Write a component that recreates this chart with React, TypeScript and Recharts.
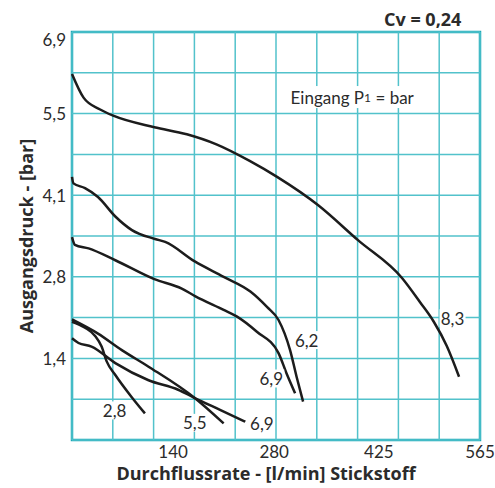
import {
  LineChart,
  Line,
  XAxis,
  YAxis,
  ReferenceArea,
  ReferenceDot,
  ReferenceLine,
} from "recharts";

// flow [l/min] vs outlet pressure [bar]
const flowTicks = [140, 280, 425, 565];
const flowGrid = [0, 56.5, 113, 169.5, 226, 282.5, 339, 395.5, 452, 508.5, 565];
const pressureTicks = [1.38, 2.76, 4.14, 5.52, 6.9];
const pressureLabels = ["1,4", "2,8", "4,1", "5,5", "6,9"];
const pressureGrid = [0, 0.69, 1.38, 2.07, 2.76, 3.45, 4.14, 4.83, 5.52, 6.21, 6.9];

const curve83 = [
  { flow: 0, pressure: 6.19 },
  { flow: 16, pressure: 5.79 },
  { flow: 39, pressure: 5.59 },
  { flow: 58, pressure: 5.48 },
  { flow: 114, pressure: 5.29 },
  { flow: 159, pressure: 5.17 },
  { flow: 200, pressure: 5.0 },
  { flow: 246, pressure: 4.72 },
  { flow: 284, pressure: 4.45 },
  { flow: 341, pressure: 3.97 },
  { flow: 396, pressure: 3.38 },
  { flow: 457, pressure: 2.74 },
  { flow: 482, pressure: 2.33 },
  { flow: 501, pressure: 2.0 },
  { flow: 519, pressure: 1.59 },
  { flow: 536, pressure: 1.07 },
];

const curve62 = [
  { flow: 0, pressure: 4.45 },
  { flow: 2, pressure: 4.34 },
  { flow: 18, pressure: 4.26 },
  { flow: 36, pressure: 4.11 },
  { flow: 60, pressure: 3.78 },
  { flow: 83, pressure: 3.55 },
  { flow: 115, pressure: 3.4 },
  { flow: 129, pressure: 3.35 },
  { flow: 170, pressure: 3.02 },
  { flow: 210, pressure: 2.76 },
  { flow: 247, pressure: 2.51 },
  { flow: 270, pressure: 2.25 },
  { flow: 286, pressure: 2.03 },
  { flow: 302, pressure: 1.52 },
  { flow: 311, pressure: 1.07 },
  { flow: 320, pressure: 0.65 },
];

const curve69a = [
  { flow: 0, pressure: 3.43 },
  { flow: 4, pressure: 3.3 },
  { flow: 23, pressure: 3.24 },
  { flow: 60, pressure: 3.04 },
  { flow: 114, pressure: 2.72 },
  { flow: 152, pressure: 2.56 },
  { flow: 171, pressure: 2.43 },
  { flow: 210, pressure: 2.2 },
  { flow: 228, pressure: 2.09 },
  { flow: 256, pressure: 1.83 },
  { flow: 286, pressure: 1.47 },
  { flow: 297, pressure: 1.13 },
  { flow: 309, pressure: 0.79 },
];

const curve55 = [
  { flow: 0, pressure: 2.04 },
  { flow: 36, pressure: 1.8 },
  { flow: 69, pressure: 1.52 },
  { flow: 106, pressure: 1.24 },
  { flow: 170, pressure: 0.71 },
  { flow: 210, pressure: 0.28 },
];

const curve69b = [
  { flow: 0, pressure: 1.72 },
  { flow: 9, pressure: 1.64 },
  { flow: 27, pressure: 1.58 },
  { flow: 60, pressure: 1.3 },
  { flow: 106, pressure: 1.01 },
  { flow: 147, pressure: 0.85 },
  { flow: 170, pressure: 0.71 },
  { flow: 205, pressure: 0.51 },
  { flow: 240, pressure: 0.31 },
];

const curve28 = [
  { flow: 0, pressure: 2.0 },
  { flow: 18, pressure: 1.9 },
  { flow: 32, pressure: 1.76 },
  { flow: 41, pressure: 1.58 },
  { flow: 48, pressure: 1.33 },
  { flow: 60, pressure: 1.1 },
  { flow: 83, pressure: 0.72 },
  { flow: 101, pressure: 0.45 },
];

const curves = [curve83, curve62, curve69a, curve55, curve69b, curve28];

const curveTags = [
  { text: "8,3", flow: 527, pressure: 2.06 },
  { text: "6,2", flow: 325, pressure: 1.69 },
  { text: "6,9", flow: 276, pressure: 1.04 },
  { text: "2,8", flow: 59, pressure: 0.5 },
  { text: "5,5", flow: 170, pressure: 0.29 },
  { text: "6,9", flow: 263, pressure: 0.28 },
];

const FONT = "Lato, 'Noto Sans', sans-serif";
const BOLD_FONT = "'Open Sans', 'Noto Sans', sans-serif";
const TEXT = "#2b2b2b";
const GRID = "#52c2cb";

const Tag = ({ cx, cy, text }: any) => (
  <g>
    <rect x={cx - 13} y={cy - 9} width={26} height={18} fill="#fff" />
    <text
      x={cx}
      y={cy}
      textAnchor="middle"
      dominantBaseline="central"
      fontSize={17}
      fontFamily={FONT}
      fill={TEXT}
    >
      {text}
    </text>
  </g>
);

const Inlet = ({ cx, cy }: any) => (
  <g>
    <rect x={cx - 66} y={cy - 11} width={132} height={22} fill="#fff" />
    <text
      x={cx}
      y={cy}
      textAnchor="middle"
      dominantBaseline="central"
      fontSize={17}
      fontFamily={FONT}
      fill={TEXT}
    >
      Eingang P<tspan fontSize={12}>1</tspan> = bar
    </text>
  </g>
);

const PressureTick = ({ x, y, payload }: any) => (
  <text
    x={x}
    y={payload.value === 6.9 ? y + 7 : y}
    textAnchor="end"
    dominantBaseline="central"
    fontSize={17}
    fontFamily={FONT}
    fill={TEXT}
  >
    {pressureLabels[pressureTicks.indexOf(payload.value)]}
  </text>
);

export default function App() {
  return (
    <div
      style={{
        position: "absolute",
        left: 0,
        top: 0,
        width: 495,
        height: 488,
        background: "#fff",
      }}
    >
      <LineChart
        width={495}
        height={488}
        margin={{ top: 32, right: 15, bottom: 0, left: 12 }}
      >
        <XAxis
          xAxisId="flow"
          type="number"
          dataKey="flow"
          domain={[0, 565]}
          ticks={flowTicks}
          interval={0}
          axisLine={false}
          tickLine={false}
          tickSize={0}
          tickMargin={6}
          height={48}
          tick={{ fill: TEXT, fontSize: 17, fontFamily: FONT }}
          label={{
            content: ({ viewBox }: any) => (
              <text
                x={viewBox.x + viewBox.width / 2 - 10}
                y={viewBox.y + viewBox.height - 8}
                textAnchor="middle"
                fontSize={18}
                fontWeight={700}
                fontFamily={BOLD_FONT}
                fill={TEXT}
              >
                Durchflussrate - [l/min] Stickstoff
              </text>
            ),
          }}
        />
        <YAxis
          yAxisId="p"
          type="number"
          domain={[0, 6.9]}
          ticks={pressureTicks}
          interval={0}
          axisLine={false}
          tickLine={false}
          tickSize={0}
          tickMargin={6}
          width={60}
          tick={<PressureTick />}
          label={{
            content: ({ viewBox }: any) => {
              const x = viewBox.x + 21;
              const y = viewBox.y + viewBox.height / 2;
              return (
                <text
                  x={x}
                  y={y}
                  transform={`rotate(-90, ${x}, ${y})`}
                  textAnchor="middle"
                  fontSize={18}
                  fontWeight={700}
                  fontFamily={BOLD_FONT}
                  fill={TEXT}
                >
                  Ausgangsdruck - [bar]
                </text>
              );
            },
          }}
        />
        {flowGrid.map((v) => (
          <ReferenceLine
            key={"x" + v}
            xAxisId="flow"
            yAxisId="p"
            x={v}
            stroke={GRID}
            strokeWidth={1.5}
          />
        ))}
        {pressureGrid.map((v) => (
          <ReferenceLine
            key={"y" + v}
            xAxisId="flow"
            yAxisId="p"
            y={v}
            stroke={GRID}
            strokeWidth={1.5}
          />
        ))}
        <ReferenceArea
          xAxisId="flow"
          yAxisId="p"
          x1={0}
          x2={565}
          y1={0}
          y2={6.9}
          fill="none"
          stroke="#1aa9b7"
          strokeWidth={2.5}
          ifOverflow="visible"
        />
        {curveTags.map((t, i) => (
          <ReferenceDot
            key={i}
            xAxisId="flow"
            yAxisId="p"
            x={t.flow}
            y={t.pressure}
            r={0}
            ifOverflow="visible"
            shape={(p: any) => <Tag cx={p.cx} cy={p.cy} text={t.text} />}
          />
        ))}
        <ReferenceDot
          xAxisId="flow"
          yAxisId="p"
          x={388}
          y={5.8}
          r={0}
          ifOverflow="visible"
          shape={(p: any) => <Inlet cx={p.cx} cy={p.cy} />}
        />
        {curves.map((c, i) => (
          <Line
            key={i}
            xAxisId="flow"
            yAxisId="p"
            data={c}
            dataKey="pressure"
            type="monotone"
            stroke="#1c1c1c"
            strokeWidth={2.5}
            dot={false}
            activeDot={false}
            isAnimationActive={false}
          />
        ))}
      </LineChart>
      <div
        style={{
          position: "absolute",
          left: 384,
          top: 7,
          fontFamily: BOLD_FONT,
          fontWeight: 700,
          fontSize: 18,
          color: TEXT,
          lineHeight: "24px",
        }}
      >
        Cv = 0,24
      </div>
    </div>
  );
}
